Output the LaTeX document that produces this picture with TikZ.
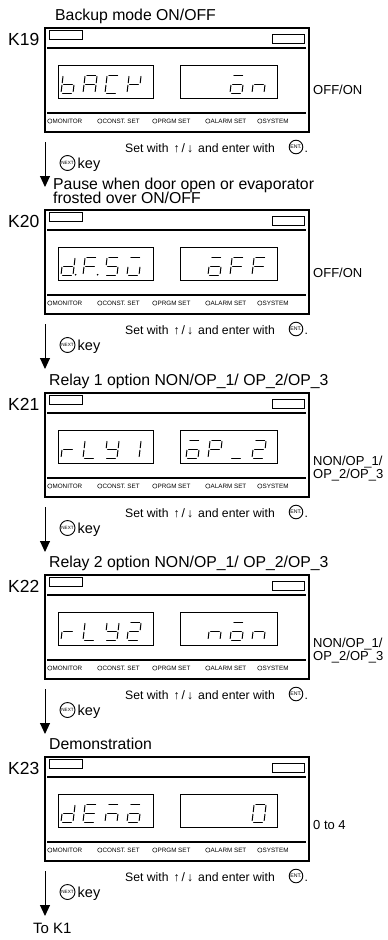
\documentclass[tikz,border=0pt]{standalone}
\usepackage{fontspec}
\setmainfont{Liberation Sans}
\usetikzlibrary{arrows.meta}
\tikzset{
  segline/.style={line width=1pt, line cap=round},
  panelbox/.style={draw, line width=1.1pt, inner sep=0, outer sep=0, anchor=north west},
  dispbox/.style={draw, line width=0.8pt},
  smallbox/.style={draw, line width=0.8pt, inner sep=0, outer sep=0, anchor=north west},
  sepline/.style={line width=1.4pt},
  ttl/.style={anchor=base west, inner sep=0, font=\fontsize{15.8}{17}\selectfont},
  klabel/.style={anchor=base west, inner sep=0, font=\fontsize{17.5}{19}\selectfont},
  rlabel/.style={anchor=base west, inner sep=0, font=\fontsize{13}{15}\selectfont},
  setline/.style={anchor=base west, inner sep=0, font=\fontsize{12.2}{14}\selectfont},
  keytxt/.style={anchor=base west, inner sep=0, font=\fontsize{14.5}{16}\selectfont},
  modelbl/.style={anchor=west, inner sep=0, font=\fontsize{6.3}{7}\selectfont},
  lamp/.style={circle, draw, line width=0.45pt, minimum size=4.4pt, inner sep=0},
  keycirc/.style={circle, draw, line width=0.9pt, inner sep=0},
  flow/.style={line width=1pt, -{Triangle[width=10pt,length=11pt]}},
}
% seven-segment pieces (local cell: 12 wide, 18 high, y up)
\newcommand\segma{\draw[segline] (1.6,18) -- (10.4,18);}
\newcommand\segmb{\draw[segline] (12,16.6) -- (12,10.2);}
\newcommand\segmc{\draw[segline] (12,7.8) -- (12,1.4);}
\newcommand\segmd{\draw[segline] (1.6,0) -- (10.4,0);}
\newcommand\segme{\draw[segline] (0,1.4) -- (0,7.8);}
\newcommand\segmf{\draw[segline] (0,10.2) -- (0,16.6);}
\newcommand\segmg{\draw[segline] (1.6,9) -- (10.4,9);}
\newcommand\segmp{\fill (14.6,0.3) circle (0.9);}
\newcommand\lcd[3]{%
  \begin{scope}[shift={(#1,#2)}, x=1pt, y=1pt, xslant=0.12]
    \foreach \s in {#3}{\csname segm\s\endcsname}
  \end{scope}}
% panel frame: id, top y
\newcommand\kframe[2]{%
  \node[panelbox, minimum width=264pt, minimum height=104pt] (#1) at (45,#2) {};
  \node[smallbox, minimum width=33pt, minimum height=9pt] (#1-lbox) at (49,#2+2) {};
  \node[smallbox, minimum width=32pt, minimum height=9pt] (#1-rbox) at (272,#2+6) {};
  \draw[sepline] (47,#2+20) -- (306,#2+20);
  \draw[sepline] (47,#2+85) -- (306,#2+85);
  \draw[dispbox] (58,#2+37) rectangle (153,#2+70);
  \draw[dispbox] (180,#2+37) rectangle (277,#2+70);
  \node[lamp] (#1-l1) at (49.8,#2+93) {};
  \node[modelbl] (#1-t1) at (52.4,#2+93) {MONITOR};
  \node[lamp] (#1-l2) at (99.8,#2+93) {};
  \node[modelbl] (#1-t2) at (102.4,#2+93) {CONST. SET};
  \node[lamp] (#1-l3) at (154.8,#2+93) {};
  \node[modelbl] (#1-t3) at (157.4,#2+93) {PRGM SET};
  \node[lamp] (#1-l4) at (207.8,#2+93) {};
  \node[modelbl] (#1-t4) at (210.4,#2+93) {ALARM SET};
  \node[lamp] (#1-l5) at (259.8,#2+93) {};
  \node[modelbl] (#1-t5) at (262.4,#2+93) {SYSTEM};
}
% footer below a panel: id, bottom y
\newcommand\kfoot[2]{%
  \node[setline] (#1-set) at (125,#2+20) {Set with\hspace{5pt}↑\,/\,↓\hspace{5pt}and enter with};
  \node[keycirc, minimum size=13.6pt, font=\fontsize{5.2}{5}\selectfont] (#1-ent) at (296,#2+15) {ENT.};
  \node[setline] (#1-dot) at (304.5,#2+20) {.};
  \node[keycirc, minimum size=15pt, font=\fontsize{4.6}{5}\selectfont] (#1-next) at (67.5,#2+31) {NEXT};
  \node[keytxt] (#1-key) at (77.5,#2+36) {key};
  \coordinate (#1-out) at (45,#2+10);
  \coordinate (#1-to) at (45,#2+55);
  \draw[flow] (#1-out) -- (#1-to);
}
\begin{document}
\begin{tikzpicture}[x=1pt,y=-1pt]
\useasboundingbox (0,0) rectangle (388,940);
\fill[white] (0,0) rectangle (388,940);

% ---------- K19 ----------
\node[ttl] (t19) at (55,20) {Backup mode ON/OFF};
\node[klabel] (k19) at (8,45) {K19};
\kframe{p19}{28}
\lcd{61}{93}{c,d,e,f,g}
\lcd{83}{93}{a,b,c,e,f,g}
\lcd{105}{93}{a,d,e,f}
\lcd{127}{93}{b,e,f,g}
\lcd{230}{93}{a,c,d,e,g}
\lcd{252}{93}{c,e,g}
\node[rlabel] (r19) at (313,94) {OFF/ON};
\kfoot{f19}{132}

% ---------- K20 ----------
\node[ttl] (t20a) at (53,189) {Pause when door open or evaporator};
\node[ttl] (t20b) at (53,203) {frosted over ON/OFF};
\node[klabel] (k20) at (8,227) {K20};
\kframe{p20}{210}
\lcd{61}{275}{b,c,d,e,g,p}
\lcd{83}{275}{a,e,f,g,p}
\lcd{105}{275}{a,c,d,f,g}
\lcd{127}{275}{a,c,d,e}
\lcd{208}{275}{a,c,d,e,g}
\lcd{230}{275}{a,e,f,g}
\lcd{252}{275}{a,e,f,g}
\node[rlabel] (r20) at (313,277) {OFF/ON};
\kfoot{f20}{314}

% ---------- K21 ----------
\node[ttl] (t21) at (49,385) {Relay 1 option NON/OP\_1/ OP\_2/OP\_3};
\node[klabel] (k21) at (8,410) {K21};
\kframe{p21}{393}
\lcd{61}{458}{e,g}
\lcd{83}{458}{d,e,f}
\lcd{105}{458}{b,c,d,f,g}
\lcd{127}{458}{b,c}
\lcd{186}{458}{a,c,d,e,g}
\lcd{208}{458}{a,b,e,f,g}
\lcd{230}{458}{d}
\lcd{252}{458}{a,b,d,e,g}
\node[rlabel] (r21a) at (313,465) {NON/OP\_1/};
\node[rlabel] (r21b) at (313,478) {OP\_2/OP\_3};
\kfoot{f21}{497}

% ---------- K22 ----------
\node[ttl] (t22) at (49,567) {Relay 2 option NON/OP\_1/ OP\_2/OP\_3};
\node[klabel] (k22) at (8,592) {K22};
\kframe{p22}{575}
\lcd{61}{640}{e,g}
\lcd{83}{640}{d,e,f}
\lcd{105}{640}{b,c,d,f,g}
\lcd{127}{640}{a,b,d,e,g}
\lcd{208}{640}{c,e,g}
\lcd{230}{640}{a,c,d,e,g}
\lcd{252}{640}{c,e,g}
\node[rlabel] (r22a) at (313,647) {NON/OP\_1/};
\node[rlabel] (r22b) at (313,660) {OP\_2/OP\_3};
\kfoot{f22}{679}

% ---------- K23 ----------
\node[ttl] (t23) at (49,749) {Demonstration};
\node[klabel] (k23) at (8,774) {K23};
\kframe{p23}{757}
\lcd{61}{822}{b,c,d,e,g}
\lcd{83}{822}{a,d,e,f,g}
\lcd{105}{822}{a,c,e,g}
\lcd{127}{822}{a,c,d,e,g}
\lcd{252}{822}{a,b,c,d,e,f}
\node[rlabel] (r23) at (313,829) {0 to 4};
\kfoot{f23}{861}

\node[ttl, font=\fontsize{15}{17}\selectfont] (tok1) at (33,933) {To K1};
\end{tikzpicture}
\end{document}
